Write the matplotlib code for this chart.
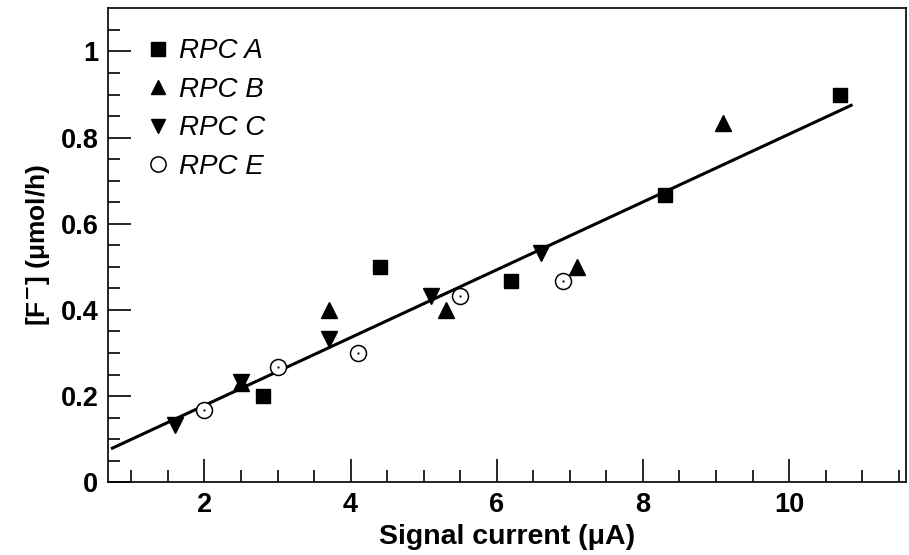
import numpy as np
import matplotlib
matplotlib.use("Agg")
import matplotlib.pyplot as plt
from matplotlib.lines import Line2D

# Data
rpcA_x = [2.8, 4.4, 6.2, 8.3, 10.7]
rpcA_y = [0.200, 0.500, 0.467, 0.667, 0.900]
rpcB_x = [2.5, 3.7, 5.3, 7.1, 9.1]
rpcB_y = [0.230, 0.400, 0.400, 0.500, 0.833]
rpcC_x = [1.6, 2.5, 3.7, 5.1, 6.6]
rpcC_y = [0.133, 0.233, 0.333, 0.433, 0.533]
rpcE_x = [2.0, 3.0, 4.1, 5.5, 6.9]
rpcE_y = [0.167, 0.267, 0.300, 0.433, 0.467]
fit_slope = 0.0787
fit_intercept = 0.021
fit_xrange = [0.74, 10.85]
labels = ["RPC A", "RPC B", "RPC C", "RPC E"]

plt.rcParams['font.family'] = ['Liberation Sans', 'DejaVu Sans']

fig = plt.figure(figsize=(9.09, 5.55), dpi=100)
ax = fig.add_axes([0.1188, 0.131, 0.8779, 0.854])

fx = np.array(fit_xrange)
ax.plot(fx, fit_intercept + fit_slope * fx, color='black', lw=2.2, zorder=2)

ax.plot(rpcA_x, rpcA_y, 's', color='black', ms=10.5, zorder=3)
ax.plot(rpcB_x, rpcB_y, '^', color='black', ms=11, zorder=3)
ax.plot(rpcC_x, rpcC_y, 'v', color='black', ms=11, zorder=3)
ax.plot(rpcE_x, rpcE_y, 'o', mfc='white', mec='black', mew=1.1, ms=11.5, zorder=4)
ax.plot(rpcE_x, rpcE_y, '.', color='black', ms=1.2, zorder=5)

ax.set_xlim(0.68, 11.6)
ax.set_ylim(0, 1.1)
ax.set_xticks([2, 4, 6, 8, 10])
ax.set_xticks(np.arange(1.0, 11.6, 0.5), minor=True)
ax.set_yticks([0, 0.2, 0.4, 0.6, 0.8, 1.0])
ax.set_yticklabels(['0', '0.2', '0.4', '0.6', '0.8', '1'])
ax.set_yticks(np.arange(0.05, 1.1, 0.05), minor=True)

ax.tick_params(which='both', direction='in', top=False, right=False, width=1.2)
ax.tick_params(which='major', length=16.5, labelsize=19.5, pad=7)
ax.tick_params(which='minor', length=8.6)
for lab in ax.get_xticklabels() + ax.get_yticklabels():
    lab.set_fontweight('bold')
for s in ax.spines.values():
    s.set_linewidth(1.2)

ax.set_xlabel('Signal current (μA)', fontsize=20.5, fontweight='bold', labelpad=4)
ax.set_ylabel('[F$^{\\mathbf{-}}$] (μmol/h)', fontsize=19, fontweight='bold', labelpad=6)

handles = [
    Line2D([], [], ls='none', marker='s', color='black', ms=10),
    Line2D([], [], ls='none', marker='^', color='black', ms=10.5),
    Line2D([], [], ls='none', marker='v', color='black', ms=10.5),
    Line2D([], [], ls='none', marker='o', mfc='white', mec='black', mew=1.1, ms=11),
]
leg = ax.legend(handles, labels, loc='upper left', bbox_to_anchor=(0.035, 0.960),
                frameon=False, handlelength=0.8, handletextpad=0.35,
                labelspacing=0.45, borderaxespad=0,
                prop={'family': ['Liberation Sans', 'DejaVu Sans'], 'style': 'italic', 'size': 20})

fig.savefig('out.png', dpi=100)
